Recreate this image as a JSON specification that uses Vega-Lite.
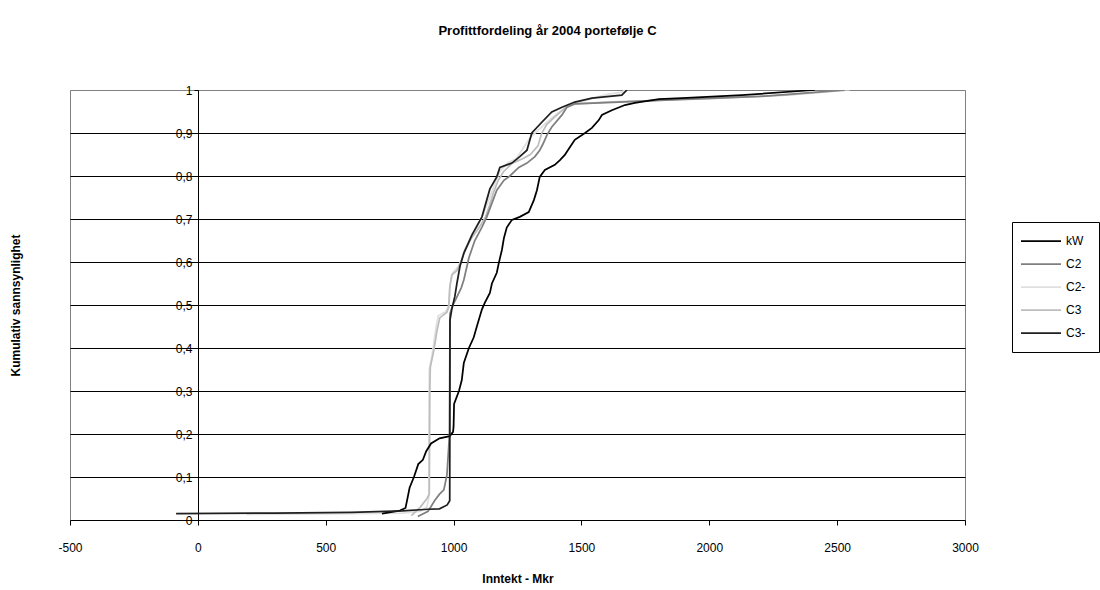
{
  "$schema": "https://vega.github.io/schema/vega-lite/v6.json",
  "width": 895,
  "height": 430,
  "autosize": {"type": "none"},
  "padding": {"left": 70, "top": 90, "right": 135, "bottom": 70},
  "background": "white",
  "config": {"font": "Liberation Sans", "view": {"stroke": "#808080", "strokeWidth": 1}},
  "title": {"text": "Profittfordeling år 2004 portefølje C", "fontSize": 13, "fontWeight": "bold", "font": "Liberation Sans", "color": "#000", "anchor": "middle", "dx": 30, "offset": 36, "baseline": "alphabetic"},
  "data": {"values": [
    {"s":"C2-","x":190,"y":0.013},{"s":"C2-","x":500,"y":0.014},{"s":"C2-","x":800,"y":0.016},{"s":"C2-","x":870,"y":0.02},{"s":"C2-","x":895,"y":0.03},{"s":"C2-","x":903,"y":0.05},{"s":"C2-","x":905,"y":0.35},{"s":"C2-","x":915,"y":0.38},{"s":"C2-","x":925,"y":0.42},{"s":"C2-","x":932,"y":0.45},{"s":"C2-","x":940,"y":0.475},{"s":"C2-","x":970,"y":0.485},{"s":"C2-","x":982,"y":0.5},{"s":"C2-","x":987,"y":0.55},{"s":"C2-","x":997,"y":0.575},{"s":"C2-","x":1020,"y":0.59},{"s":"C2-","x":1040,"y":0.62},{"s":"C2-","x":1065,"y":0.655},{"s":"C2-","x":1095,"y":0.685},{"s":"C2-","x":1115,"y":0.71},{"s":"C2-","x":1135,"y":0.74},{"s":"C2-","x":1160,"y":0.78},{"s":"C2-","x":1180,"y":0.81},{"s":"C2-","x":1210,"y":0.83},{"s":"C2-","x":1245,"y":0.84},{"s":"C2-","x":1267,"y":0.86},{"s":"C2-","x":1300,"y":0.89},{"s":"C2-","x":1345,"y":0.914},{"s":"C2-","x":1384,"y":0.935},{"s":"C2-","x":1424,"y":0.953},{"s":"C2-","x":1480,"y":0.97},{"s":"C2-","x":1541,"y":0.98},{"s":"C2-","x":1600,"y":0.99},{"s":"C2-","x":1658,"y":0.995},{"s":"C2-","x":1670,"y":1.0},
    {"s":"C3","x":835,"y":0.01},{"s":"C3","x":870,"y":0.03},{"s":"C3","x":896,"y":0.05},{"s":"C3","x":905,"y":0.06},{"s":"C3","x":907,"y":0.3},{"s":"C3","x":909,"y":0.355},{"s":"C3","x":923,"y":0.395},{"s":"C3","x":935,"y":0.44},{"s":"C3","x":946,"y":0.47},{"s":"C3","x":974,"y":0.483},{"s":"C3","x":981,"y":0.495},{"s":"C3","x":985,"y":0.54},{"s":"C3","x":993,"y":0.57},{"s":"C3","x":1013,"y":0.58},{"s":"C3","x":1032,"y":0.605},{"s":"C3","x":1044,"y":0.628},{"s":"C3","x":1070,"y":0.655},{"s":"C3","x":1100,"y":0.68},{"s":"C3","x":1125,"y":0.705},{"s":"C3","x":1140,"y":0.73},{"s":"C3","x":1155,"y":0.76},{"s":"C3","x":1175,"y":0.79},{"s":"C3","x":1195,"y":0.81},{"s":"C3","x":1230,"y":0.83},{"s":"C3","x":1270,"y":0.84},{"s":"C3","x":1300,"y":0.85},{"s":"C3","x":1330,"y":0.87},{"s":"C3","x":1345,"y":0.9},{"s":"C3","x":1365,"y":0.92},{"s":"C3","x":1400,"y":0.94},{"s":"C3","x":1440,"y":0.96},{"s":"C3","x":1480,"y":0.968},{"s":"C3","x":1600,"y":0.972},{"s":"C3","x":1800,"y":0.976},{"s":"C3","x":2000,"y":0.98},{"s":"C3","x":2300,"y":0.988},{"s":"C3","x":2550,"y":1.0},
    {"s":"C2","x":860,"y":0.008},{"s":"C2","x":900,"y":0.02},{"s":"C2","x":927,"y":0.046},{"s":"C2","x":945,"y":0.06},{"s":"C2","x":962,"y":0.07},{"s":"C2","x":974,"y":0.105},{"s":"C2","x":981,"y":0.17},{"s":"C2","x":984,"y":0.2},{"s":"C2","x":986,"y":0.48},{"s":"C2","x":997,"y":0.5},{"s":"C2","x":1010,"y":0.515},{"s":"C2","x":1030,"y":0.54},{"s":"C2","x":1040,"y":0.558},{"s":"C2","x":1060,"y":0.61},{"s":"C2","x":1083,"y":0.65},{"s":"C2","x":1110,"y":0.68},{"s":"C2","x":1130,"y":0.705},{"s":"C2","x":1150,"y":0.737},{"s":"C2","x":1169,"y":0.767},{"s":"C2","x":1197,"y":0.79},{"s":"C2","x":1220,"y":0.8},{"s":"C2","x":1255,"y":0.82},{"s":"C2","x":1287,"y":0.83},{"s":"C2","x":1318,"y":0.845},{"s":"C2","x":1337,"y":0.86},{"s":"C2","x":1350,"y":0.875},{"s":"C2","x":1365,"y":0.895},{"s":"C2","x":1384,"y":0.914},{"s":"C2","x":1424,"y":0.942},{"s":"C2","x":1443,"y":0.96},{"s":"C2","x":1474,"y":0.968},{"s":"C2","x":1646,"y":0.972},{"s":"C2","x":1893,"y":0.978},{"s":"C2","x":2200,"y":0.985},{"s":"C2","x":2530,"y":1.0},
    {"s":"kW","x":720,"y":0.015},{"s":"kW","x":790,"y":0.022},{"s":"kW","x":812,"y":0.028},{"s":"kW","x":818,"y":0.045},{"s":"kW","x":828,"y":0.075},{"s":"kW","x":845,"y":0.1},{"s":"kW","x":862,"y":0.13},{"s":"kW","x":880,"y":0.14},{"s":"kW","x":893,"y":0.16},{"s":"kW","x":912,"y":0.178},{"s":"kW","x":945,"y":0.19},{"s":"kW","x":985,"y":0.195},{"s":"kW","x":998,"y":0.205},{"s":"kW","x":1000,"y":0.217},{"s":"kW","x":1002,"y":0.27},{"s":"kW","x":1021,"y":0.3},{"s":"kW","x":1032,"y":0.325},{"s":"kW","x":1040,"y":0.365},{"s":"kW","x":1060,"y":0.4},{"s":"kW","x":1079,"y":0.425},{"s":"kW","x":1091,"y":0.45},{"s":"kW","x":1111,"y":0.49},{"s":"kW","x":1122,"y":0.505},{"s":"kW","x":1142,"y":0.528},{"s":"kW","x":1150,"y":0.55},{"s":"kW","x":1169,"y":0.575},{"s":"kW","x":1177,"y":0.598},{"s":"kW","x":1189,"y":0.628},{"s":"kW","x":1197,"y":0.656},{"s":"kW","x":1208,"y":0.68},{"s":"kW","x":1228,"y":0.698},{"s":"kW","x":1259,"y":0.705},{"s":"kW","x":1294,"y":0.716},{"s":"kW","x":1314,"y":0.744},{"s":"kW","x":1326,"y":0.767},{"s":"kW","x":1337,"y":0.798},{"s":"kW","x":1357,"y":0.814},{"s":"kW","x":1396,"y":0.826},{"s":"kW","x":1416,"y":0.837},{"s":"kW","x":1435,"y":0.849},{"s":"kW","x":1447,"y":0.86},{"s":"kW","x":1474,"y":0.884},{"s":"kW","x":1514,"y":0.9},{"s":"kW","x":1541,"y":0.912},{"s":"kW","x":1568,"y":0.93},{"s":"kW","x":1580,"y":0.942},{"s":"kW","x":1619,"y":0.953},{"s":"kW","x":1670,"y":0.965},{"s":"kW","x":1709,"y":0.97},{"s":"kW","x":1803,"y":0.979},{"s":"kW","x":1893,"y":0.981},{"s":"kW","x":2127,"y":0.988},{"s":"kW","x":2413,"y":1.0},
    {"s":"C3-","x":-85,"y":0.015},{"s":"C3-","x":300,"y":0.016},{"s":"C3-","x":600,"y":0.018},{"s":"C3-","x":800,"y":0.021},{"s":"C3-","x":900,"y":0.025},{"s":"C3-","x":945,"y":0.026},{"s":"C3-","x":975,"y":0.035},{"s":"C3-","x":985,"y":0.045},{"s":"C3-","x":986,"y":0.465},{"s":"C3-","x":993,"y":0.49},{"s":"C3-","x":1005,"y":0.52},{"s":"C3-","x":1013,"y":0.55},{"s":"C3-","x":1025,"y":0.59},{"s":"C3-","x":1040,"y":0.62},{"s":"C3-","x":1072,"y":0.663},{"s":"C3-","x":1111,"y":0.705},{"s":"C3-","x":1142,"y":0.77},{"s":"C3-","x":1169,"y":0.798},{"s":"C3-","x":1181,"y":0.82},{"s":"C3-","x":1228,"y":0.83},{"s":"C3-","x":1259,"y":0.845},{"s":"C3-","x":1287,"y":0.86},{"s":"C3-","x":1306,"y":0.9},{"s":"C3-","x":1345,"y":0.925},{"s":"C3-","x":1384,"y":0.949},{"s":"C3-","x":1424,"y":0.96},{"s":"C3-","x":1474,"y":0.972},{"s":"C3-","x":1541,"y":0.981},{"s":"C3-","x":1658,"y":0.988},{"s":"C3-","x":1678,"y":1.0}
  ]},
  "mark": {"type": "line", "strokeWidth": 1.75, "clip": true},
  "encoding": {
    "x": {
      "field": "x", "type": "quantitative",
      "scale": {"domain": [-500, 3000], "nice": false, "zero": false},
      "axis": {
        "title": "Inntekt - Mkr", "titleFontSize": 12, "titleFontWeight": "bold", "titleColor": "#000", "titlePadding": 20,
        "values": [-500, 0, 500, 1000, 1500, 2000, 2500, 3000],
        "labelExpr": "replace(format(datum.value, 'd'), '\u2212', '-')",
        "labelFontSize": 12, "labelColor": "#000", "labelPadding": 17, "labelFlush": false, "labelOverlap": false,
        "tickSize": 5, "tickColor": "#000", "domainColor": "#000", "grid": false
      }
    },
    "y": {
      "field": "y", "type": "quantitative",
      "scale": {"domain": [0, 1], "nice": false},
      "axis": {
        "title": "Kumulativ sannsynlighet", "titleFontSize": 12, "titleFontWeight": "bold", "titleColor": "#000",
        "titleX": -183, "titleBaseline": "middle",
        "offset": -128,
        "values": [0, 0.1, 0.2, 0.3, 0.4, 0.5, 0.6, 0.7, 0.8, 0.9, 1],
        "labelExpr": "replace(format(datum.value, '~g'), '.', ',')",
        "labelFontSize": 12, "labelColor": "#000", "labelPadding": 2, "labelFlush": false, "labelOverlap": false,
        "tickSize": 4, "tickColor": "#000", "domainColor": "#000",
        "grid": true,
        "gridColor": {"condition": {"test": "datum.value >= 1 || datum.value <= 0", "value": "#808080"}, "value": "#000"},
        "gridOpacity": 1
      }
    },
    "color": {
      "field": "s", "type": "nominal",
      "scale": {"domain": ["kW", "C2", "C2-", "C3", "C3-"], "range": ["#000000", "#7f7f7f", "#e0e0e0", "#bdbdbd", "#1f1f1f"]},
      "legend": {
        "orient": "none", "legendX": 942, "legendY": 132, "title": null,
        "strokeColor": "#000", "fillColor": "white", "padding": 13,
        "symbolType": "M-4,0H4", "symbolSize": 100, "symbolStrokeWidth": 1.75, "symbolOffset": 10,
        "labelFontSize": 12, "labelColor": "#000", "labelOffset": 19, "rowPadding": 11,
        "labelExpr": "datum.label + '\u00a0\u00a0\u00a0\u00a0\u00a0\u00a0\u00a0\u00a0\u00a0\u00a0'"
      }
    },
    "order": {"value": null}
  }
}
